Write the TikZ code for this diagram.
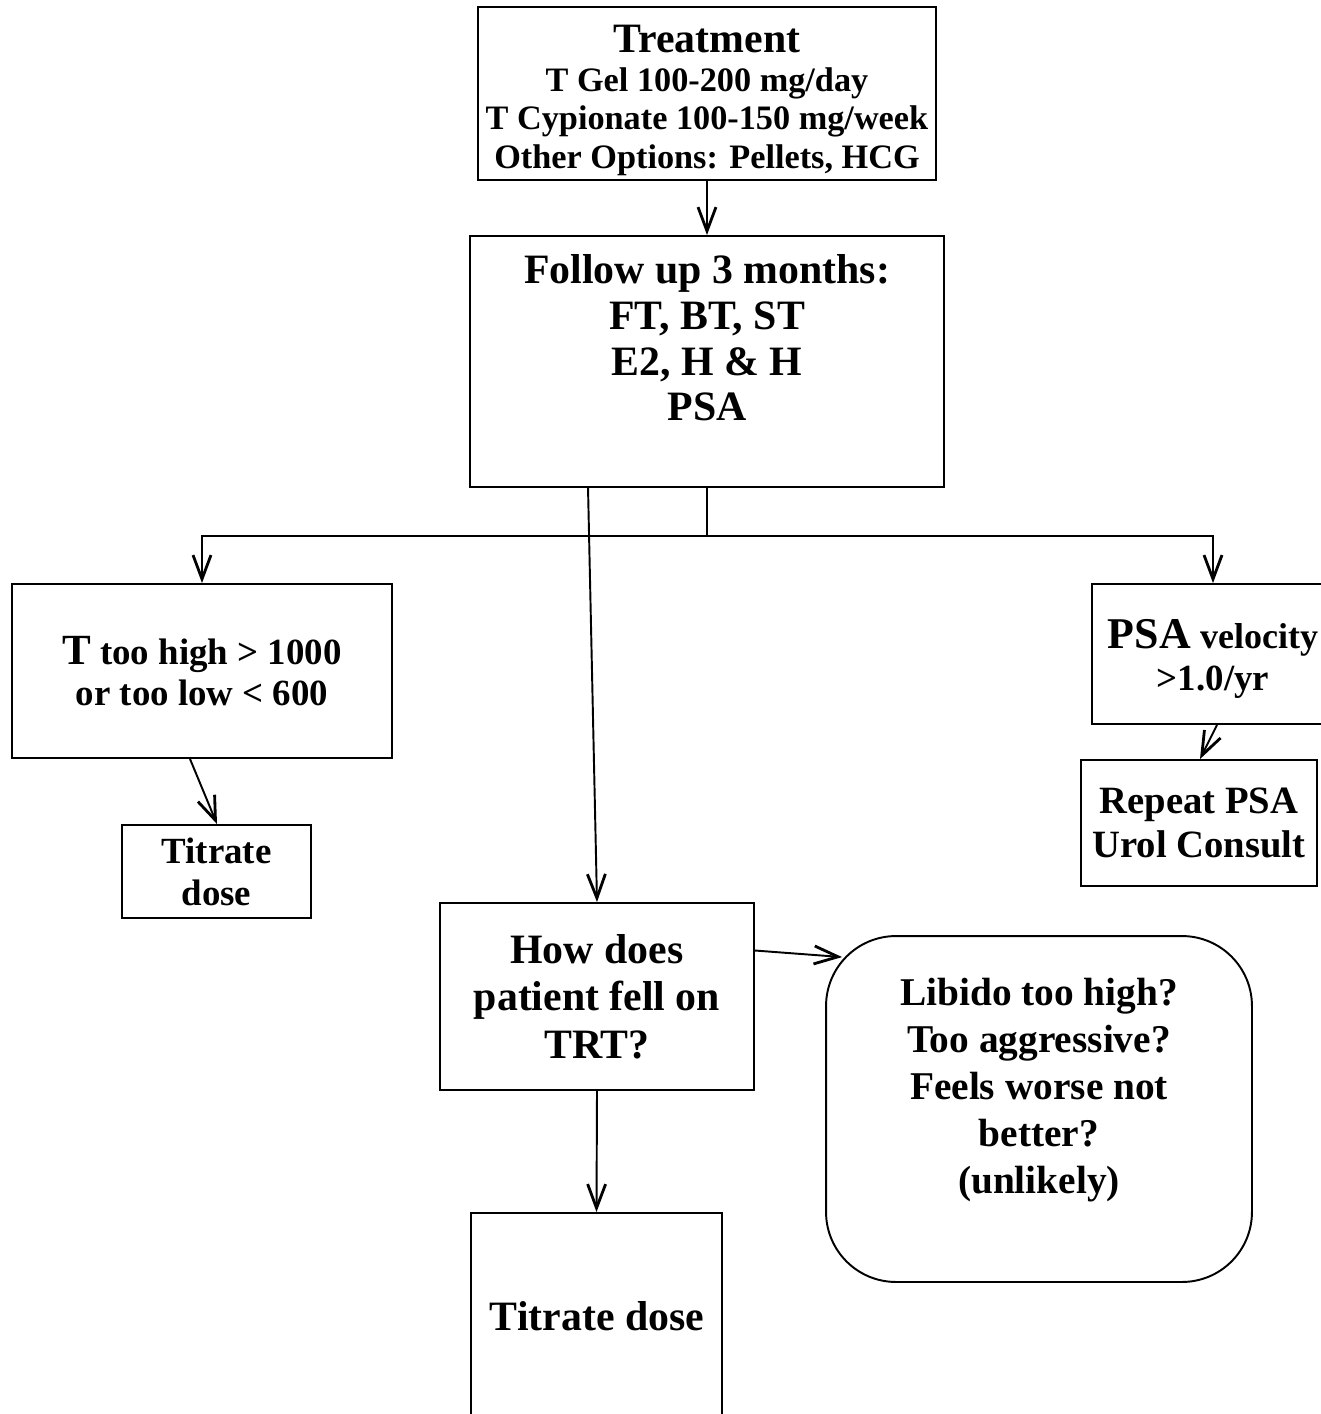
\documentclass[tikz,border=0pt]{standalone}
\usepackage{fontspec}
\setmainfont{Liberation Serif}
\usetikzlibrary{arrows.meta}
\newcommand\hugetxt{\fontsize{23.8}{27}\selectfont}
\newcommand\bigtxt{\fontsize{22}{25.5}\selectfont}
\newcommand\midtxt{\fontsize{21}{23.8}\selectfont}
\newcommand\smalltxt{\fontsize{19.5}{22}\selectfont}
\begin{document}
\begin{tikzpicture}[x=0.02cm,y=-0.02cm,
	box/.style={draw,line width=1.1pt,inner sep=0pt,align=center,font=\bfseries},
	txt/.style={inner sep=0pt,align=center,font=\bfseries},
	arr/.style={line width=1.1pt,-{Straight Barb[length=0.48cm,width=0.36cm,line width=1.6pt]}}]
	\useasboundingbox (0,0) rectangle (1321,1414);
	\clip (0,0) rectangle (1321,1414);
	% top of the chart
	\node[box,minimum width=9.16cm,minimum height=3.46cm] (treat) at (707,93.5) {};
	\node[txt,font=\bfseries\smalltxt] (treattxt) at (707,100.5)
		{{\hugetxt Treatment}\\ T Gel 100-200 mg/day\\ T Cypionate 100-150 mg/week\\ Other Options: Pellets, HCG};
	\node[box,minimum width=9.48cm,minimum height=5.02cm] (follow) at (707,361.5) {};
	\node[txt,font=\bfseries\fontsize{23.8}{26}\selectfont] (followtxt) at (707,338)
		{Follow up 3 months:\\ FT, BT, ST\\ E2, H \& H\\ PSA};
	% left branch
	\node[box,minimum width=7.6cm,minimum height=3.48cm,font=\bfseries\midtxt] (thigh) at (202,671)
		{{\fontsize{24.5}{24}\selectfont T} too high > 1000\\ or too low < 600};
	\node[box,minimum width=3.78cm,minimum height=1.86cm,font=\bfseries\midtxt] (titr) at (216.5,871.5)
		{Titrate\\ dose};
	% right branch
	\node[box,minimum width=4.84cm,minimum height=2.8cm] (psa) at (1213,654) {};
	\node[txt,font=\bfseries\fontsize{21}{23.5}\selectfont] (psatxt) at (1213,659)
		{{\fontsize{25}{23.5}\selectfont PSA} {\fontsize{20.5}{23.5}\selectfont velocity}\\ >1.0/yr};
	\node[box,minimum width=4.72cm,minimum height=2.52cm,font=\bfseries\bigtxt] (repeat) at (1199,823)
		{Repeat PSA\\ Urol Consult};
	% middle branch
	\node[box,minimum width=6.28cm,minimum height=3.74cm,font=\bfseries\hugetxt] (how) at (597,996.5)
		{How does\\ patient fell on\\ TRT?};
	\node[box,rounded corners=1.4cm,minimum width=8.52cm,minimum height=6.92cm] (libido) at (1039,1109) {};
	\node[txt,font=\bfseries\fontsize{22.4}{26.8}\selectfont] (libidotxt) at (1039,1090)
		{Libido too high?\\ Too aggressive?\\ Feels worse not\\ better?\\ (unlikely)};
	\node[box,minimum width=5.02cm,minimum height=5.2cm] (titbot) at (596.5,1343) {};
	\node[txt,font=\bfseries\hugetxt] (titbottxt) at (597,1316) {Titrate dose};
	% connectors
	\draw[arr] (treat.south) -- (follow.north);
	\draw[arr] (follow.south) -- ++(0,48) -| (thigh.north);
	\draw[arr] (follow.south) -- ++(0,48) -| (psa.north);
	\draw[arr] ([xshift=-2.38cm]follow.south) -- (how.north);
	\draw[arr] ([xshift=-0.24cm]thigh.south) -- ([xshift=0.01cm]titr.north);
	\draw[arr] ([xshift=0.08cm]psa.south) -- ([xshift=0.02cm]repeat.north);
	\draw[arr] ([yshift=0.92cm]how.east) -- ([xshift=0.34cm,yshift=-0.44cm]libido.north west);
	\draw[arr] (how.south) -- (titbot.north);
\end{tikzpicture}
\end{document}
